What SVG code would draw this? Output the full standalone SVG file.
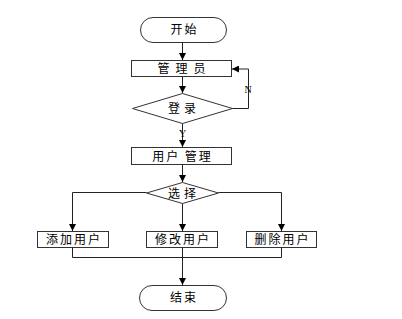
<svg xmlns="http://www.w3.org/2000/svg" width="402" height="319" viewBox="0 0 402 319">
<defs>
<marker id="ah" markerWidth="7" markerHeight="7" refX="7" refY="3.5" orient="auto" markerUnits="userSpaceOnUse">
<path d="M0,0 L7,3.5 L0,7 Z" fill="#000"/>
</marker>
<style>
.s{fill:#fff;stroke:#333;stroke-width:1}
.t{font-family:"Noto Sans CJK SC","Liberation Sans",sans-serif;font-size:12px;fill:#000;text-anchor:middle;letter-spacing:2px}
.c{fill:none;stroke:#222;stroke-width:1}
.l{font-family:"Liberation Serif",serif;font-size:10px;fill:#000;text-anchor:middle}
</style>
</defs>
<rect width="402" height="319" fill="#fff"/>
<g id="start"><rect class="s" x="140.5" y="17.5" width="86" height="25" rx="12.5"/><text class="t" x="184.5" y="34">开始</text></g>
<g id="admin"><rect class="s" x="131.5" y="60.5" width="100" height="16"/><text class="t" x="184.5" y="73" style="letter-spacing:6px">管理员</text></g>
<g id="login"><polygon class="s" points="132.5,108.5 182.5,93.5 232.5,108.5 182.5,123.5"/><text class="t" x="184" y="113" style="letter-spacing:4px">登录</text></g>
<g id="usermgmt"><rect class="s" x="131.5" y="147.5" width="100" height="17"/><text class="t" x="182.5" y="160.5">用户 管理</text></g>
<g id="choose"><polygon class="s" points="146.5,193 182.5,182.5 218.5,193 182.5,203.5"/><text class="t" x="184" y="197.5" style="letter-spacing:4px">选择</text></g>
<g id="add"><rect class="s" x="37.5" y="231.5" width="71" height="16"/><text class="t" x="74" y="244">添加用户</text></g>
<g id="modify"><rect class="s" x="146.5" y="231.5" width="71" height="16"/><text class="t" x="183" y="244">修改用户</text></g>
<g id="delete"><rect class="s" x="246.5" y="231.5" width="70" height="16"/><text class="t" x="282.5" y="244">删除用户</text></g>
<g id="end"><rect class="s" x="139.5" y="285.5" width="87" height="25" rx="12.5"/><text class="t" x="184" y="302">结束</text></g>
<g id="connectors">
<path class="c" d="M182.5,42.5 V60" marker-end="url(#ah)"/>
<path class="c" d="M182.5,76.5 V93" marker-end="url(#ah)"/>
<path class="c" d="M232.5,108.5 H248.5 V69 H232" marker-end="url(#ah)"/>
<text class="l" x="248" y="93">N</text>
<path class="c" d="M182.5,123.5 V147" marker-end="url(#ah)"/>
<text class="l" x="182.5" y="137">Y</text>
<path class="c" d="M182.5,164.5 V182" marker-end="url(#ah)"/>
<path class="c" d="M146.5,192.5 H72.5 V231" marker-end="url(#ah)"/>
<path class="c" d="M218.5,192.5 H281.5 V231" marker-end="url(#ah)"/>
<path class="c" d="M182.5,203.5 V231" marker-end="url(#ah)"/>
<path class="c" d="M72.5,247.5 V257.5 H281.5 V247.5"/>
<path class="c" d="M182.5,247.5 V285" marker-end="url(#ah)"/>
</g>
</svg>
